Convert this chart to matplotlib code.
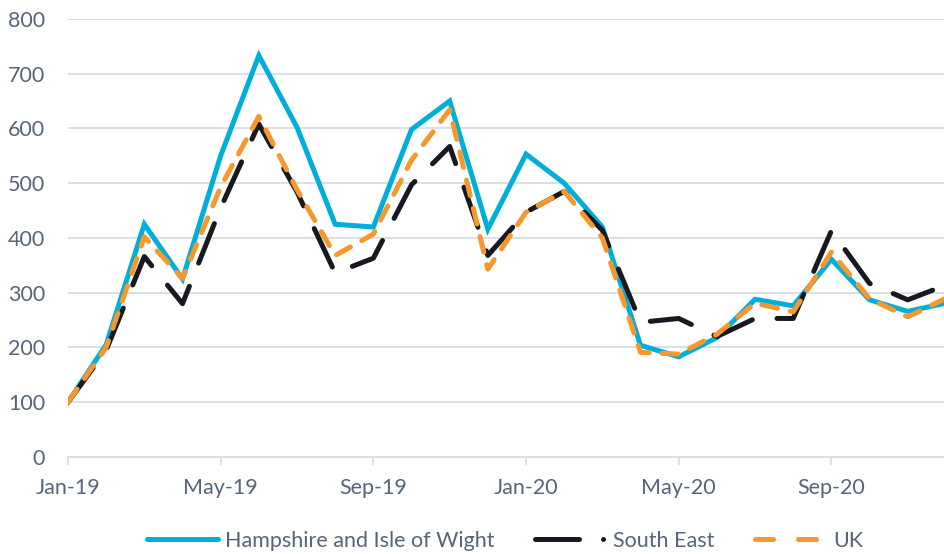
import matplotlib
matplotlib.use('Agg')
import matplotlib.pyplot as plt
from matplotlib.lines import Line2D

months = ['Jan-19', 'Feb-19', 'Mar-19', 'Apr-19', 'May-19', 'Jun-19', 'Jul-19', 'Aug-19',
          'Sep-19', 'Oct-19', 'Nov-19', 'Dec-19', 'Jan-20', 'Feb-20', 'Mar-20', 'Apr-20',
          'May-20', 'Jun-20', 'Jul-20', 'Aug-20', 'Sep-20', 'Oct-20', 'Nov-20', 'Dec-20']

hampshire = [100, 205, 425, 325, 550, 733, 602, 425, 420, 598, 650, 416, 553, 500,
             420, 204, 183, 218, 288, 276, 361, 287, 266, 281]
south_east = [100, 195, 366, 280, 455, 608, 484, 336, 363, 497, 567, 368, 447, 485,
              414, 246, 253, 220, 253, 253, 413, 317, 287, 314]
uk = [100, 200, 402, 326, 493, 622, 488, 368, 407, 542, 634, 343, 447, 485,
      400, 191, 188, 224, 281, 265, 374, 289, 256, 290]

tick_labels = ['Jan-19', 'May-19', 'Sep-19', 'Jan-20', 'May-20', 'Sep-20']

BLUE = '#00AEDB'
BLACK = '#16191F'
ORANGE = '#F7972D'
TEXT = '#56657A'
GRID = '#D9DCE3'

plt.rcParams['font.family'] = ['Lato', 'DejaVu Sans']

fig = plt.figure(figsize=(9.44, 5.54), dpi=100)
ax = fig.add_axes([0.072, 0.175, 0.928, 0.791])

x = list(range(len(months)))
ax.plot(x, hampshire, color=BLUE, lw=3.6, solid_joinstyle='miter', zorder=2)
ax.plot(x, south_east, color=BLACK, lw=3.6, dashes=(8.5, 5), dash_capstyle='round', zorder=3)
ax.plot(x, uk, color=ORANGE, lw=3.6, dashes=(3.2, 2.6), dash_capstyle='round', zorder=4)

ax.set_ylim(0, 800)
ax.set_yticks(range(0, 801, 100))
ax.set_xlim(0, 22.95)
tick_pos = [months.index(t) for t in tick_labels]
ax.set_xticks(tick_pos)
ax.set_xticklabels(tick_labels)

ax.grid(axis='y', color=GRID, lw=1.3)
ax.set_axisbelow(True)
for s in ['top', 'right', 'left']:
    ax.spines[s].set_visible(False)
ax.spines['bottom'].set_color(GRID)
ax.spines['bottom'].set_linewidth(1.3)
ax.tick_params(axis='y', length=0, pad=16.5, labelsize=15.5, labelcolor=TEXT)
ax.tick_params(axis='x', length=6, width=1.3, color=GRID, pad=9, labelsize=15.5, labelcolor=TEXT)

# legend handles drawn separately so the South East key shows its dash-dot
handles = [
    Line2D([], [], color=BLUE, lw=3.6, solid_capstyle='round'),
    Line2D([], [], color=BLACK, lw=3.6, dashes=(8.8, 4.8, 0.01, 10), dash_capstyle='round'),
    Line2D([], [], color=ORANGE, lw=3.6, dashes=(3.6, 5), dash_capstyle='round'),
]
fig.legend(handles, ['Hampshire and Isle of Wight', 'South East', 'UK'],
           loc='center', bbox_to_anchor=(0.535, 0.024), ncol=3, frameon=False,
           fontsize=15.5, labelcolor=TEXT, handlelength=3.3, handletextpad=0.35,
           columnspacing=1.85)

fig.savefig('out.png', dpi=100)
